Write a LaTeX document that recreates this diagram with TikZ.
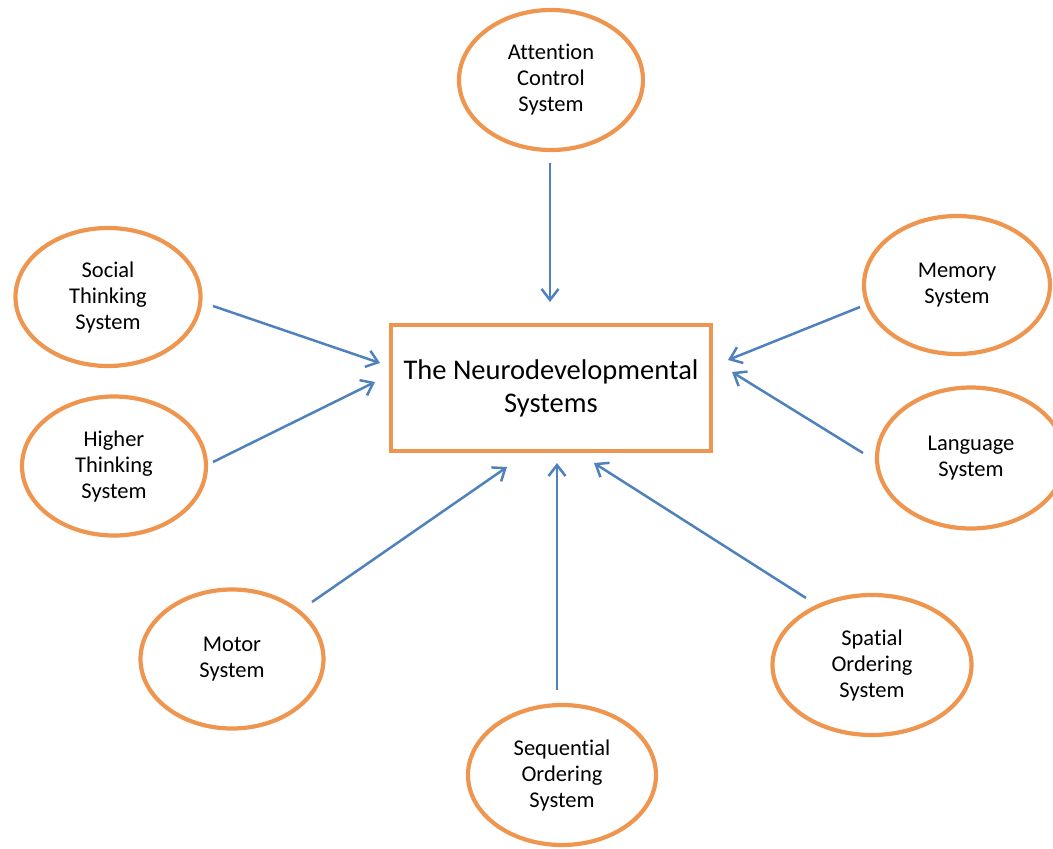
\documentclass[tikz,border=0pt]{standalone}
\usepackage{fontspec}
\setmainfont[Ligatures={NoCommon}]{Carlito}
\usetikzlibrary{shapes.geometric,arrows.meta}
\definecolor{orng}{RGB}{238,150,80}
\definecolor{arrblue}{RGB}{79,129,189}
\tikzset{
  sysnode/.style={ellipse, draw=orng, line width=4.2pt, inner sep=0pt, align=center,
    font=\fontsize{22.5}{26}\selectfont, text=black},
  mainbox/.style={rectangle, draw=orng, line width=4.2pt, align=center,
    minimum width=320pt, minimum height=126pt, inner sep=0pt,
    font=\fontsize{28.5}{33}\selectfont, text=black},
  arr/.style={draw=arrblue, line width=2.5pt, -{Straight Barb[length=11pt,width=17pt,line width=2.5pt]}}
}
\begin{document}
\begin{tikzpicture}[x=1pt,y=-1pt]
\useasboundingbox (0,0) rectangle (1053,849);
\clip (0,0) rectangle (1053,849);
\node[mainbox] (main) at (551,388) {The Neurodevelopmental\\Systems};
\node[sysnode, minimum width=184pt, minimum height=140pt] (att) at (551,80) {Attention\\Control\\System};
\node[sysnode, minimum width=185pt, minimum height=138pt] (soc) at (108,297) {Social\\Thinking\\System};
\node[sysnode, minimum width=184pt, minimum height=139pt] (hig) at (114,466) {Higher\\Thinking\\System};
\node[sysnode, minimum width=183pt, minimum height=139pt] (mot) at (232,659) {Motor\\System};
\node[sysnode, minimum width=188pt, minimum height=140pt] (seq) at (562,775) {Sequential\\Ordering\\System};
\node[sysnode, minimum width=199pt, minimum height=140pt] (spa) at (872,665) {Spatial\\Ordering\\System};
\node[sysnode, minimum width=188pt, minimum height=141pt] (lan) at (971,458) {Language\\System};
\node[sysnode, minimum width=186pt, minimum height=138pt] (mem) at (957,285) {Memory\\System};

\draw[arr] ([shift={(-1,83)}]att.center) -- ([shift={(-1,-86)}]main.center);
\draw[arr] ([shift={(105,9)}]soc.center) -- ([shift={(-171,-25)}]main.center);
\draw[arr] ([shift={(99,-4)}]hig.center) -- ([shift={(-176,-6)}]main.center);
\draw[arr] ([shift={(80,-57)}]mot.center) -- ([shift={(-44,79)}]main.center);
\draw[arr] ([shift={(-5,-85)}]seq.center) -- ([shift={(6,75)}]main.center);
\draw[arr] ([shift={(-66,-67)}]spa.center) -- ([shift={(43,75)}]main.center);
\draw[arr] ([shift={(-108,-5)}]lan.center) -- ([shift={(181,-16)}]main.center);
\draw[arr] ([shift={(-97,22)}]mem.center) -- ([shift={(177,-28)}]main.center);
\end{tikzpicture}
\end{document}
